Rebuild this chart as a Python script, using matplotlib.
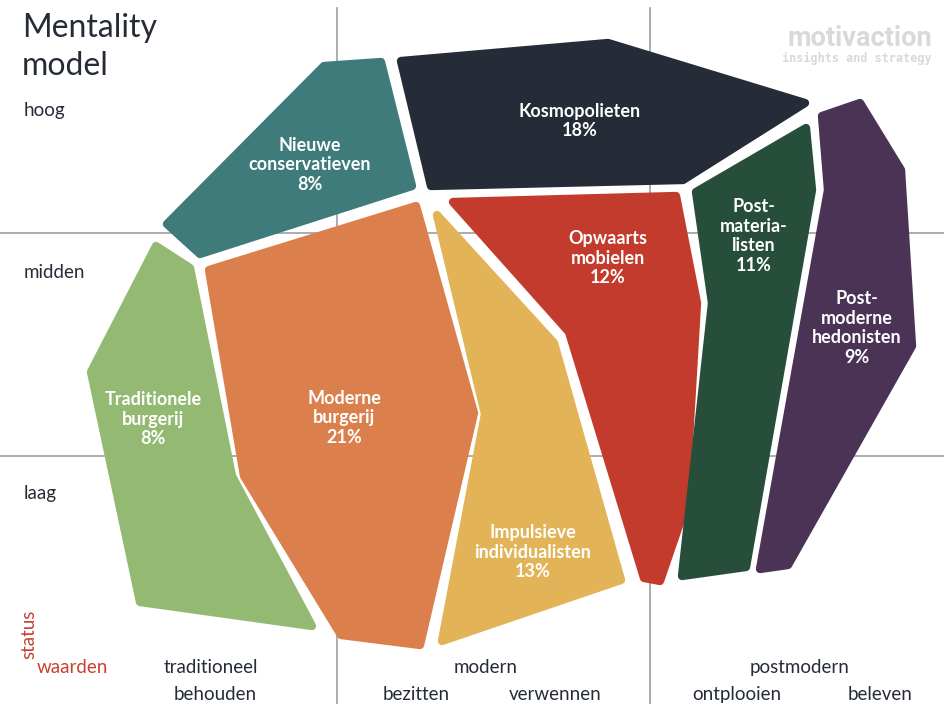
import matplotlib.pyplot as plt
from matplotlib.patches import Polygon

# segment names, shares and colours
segments = ['Nieuwe\nconservatieven', 'Kosmopolieten', 'Opwaarts\nmobielen',
            'Impulsieve\nindividualisten', 'Moderne\nburgerij', 'Traditionele\nburgerij',
            'Post-\nmateria-\nlisten', 'Post-\nmoderne\nhedonisten']
shares = [8, 18, 12, 13, 21, 8, 11, 9]
colors = ['#3E7B7A', '#262C37', '#C33B2C', '#E3B457', '#DB804C', '#94B973',
          '#274E3B', '#4A3355']

# shape outlines (pixel coords of the model picture)
shapes = [
    [(167, 224), (324, 66), (381, 62), (412, 186), (200, 254)],
    [(401, 61), (608, 43), (805, 103), (683, 180), (431, 186)],
    [(453, 202), (676, 196), (697, 303), (685, 508), (660, 581), (644, 578), (569, 332)],
    [(437, 215), (554, 343), (621, 580), (442, 641), (485, 414)],
    [(209, 270), (416, 206), (474, 413), (420, 645), (341, 635), (244, 476)],
    [(156, 246), (190, 268), (232, 476), (312, 626), (140, 602), (91, 372)],
    [(806, 128), (812, 190), (746, 567), (682, 576), (712, 303), (696, 192)],
    [(822, 116), (860, 103), (901, 170), (912, 346), (788, 565), (760, 569), (828, 190)],
]
label_pos = [(310, 165), (580, 121), (608, 258), (533, 552), (344, 418),
             (153, 419), (754, 236), (857, 328)]

# axes labels
status_levels = ['hoog', 'midden', 'laag']
status_y = [116, 278, 499]
values_top = ['traditioneel', 'modern', 'postmodern']
values_top_x = [211, 486, 800]
values_bottom = ['behouden', 'bezitten', 'verwennen', 'ontplooien', 'beleven']
values_bottom_x = [215, 416, 555, 737, 880]

dark = '#262C37'
red = '#C9402E'
grid = '#9C9EA3'

fig = plt.figure(figsize=(9.44, 7.04), dpi=100)
ax = fig.add_axes([0, 0, 1, 1])
ax.set_xlim(0, 944)
ax.set_ylim(704, 0)
ax.axis('off')

# grid
for x in [337, 650]:
    ax.plot([x, x], [8, 704], color=grid, lw=1.2, zorder=0)
for y in [233, 456]:
    ax.plot([0, 944], [y, y], color=grid, lw=1.2, zorder=0)

# shapes
for pts, c, name, s, (lx, ly) in zip(shapes, colors, segments, shares, label_pos):
    ax.add_patch(Polygon(pts, closed=True, facecolor=c, edgecolor=c, lw=6,
                         joinstyle='round', zorder=2))
    ax.text(lx, ly, f'{name}\n{s}%', color='white', fontsize=13, fontweight='bold',
            family='Lato', ha='center', va='center', linespacing=1.2, zorder=3)

# title
ax.text(22, 37, 'Mentality', fontsize=23, color=dark, family='Lato', va='baseline')
ax.text(22, 75, 'model', fontsize=23, color=dark, family='Lato', va='baseline')

for lab, y in zip(status_levels, status_y):
    ax.text(24, y, lab, fontsize=13.5, color=dark, family='Lato', va='baseline')

ax.text(29, 659, 'status', fontsize=13.5, color=red, family='Lato', rotation=90,
        ha='center', va='bottom')
ax.text(37, 673, 'waarden', fontsize=13.5, color=red, family='Lato', va='baseline')

for lab, x in zip(values_top, values_top_x):
    ax.text(x, 673, lab, fontsize=13.5, color=dark, family='Lato', ha='center',
            va='baseline')
for lab, x in zip(values_bottom, values_bottom_x):
    ax.text(x, 700, lab, fontsize=13.5, color=dark, family='Lato', ha='center',
            va='baseline')

# logo
ax.text(932, 39, 'motivaction', fontsize=19.5, color='#D9D9D9', fontweight='bold',
        family='Roboto', ha='right', va='center')
ax.text(932, 58, 'insights and strategy', fontsize=8.5, color='#D9D9D9',
        fontweight='bold', family='DejaVu Sans Mono', ha='right', va='center')

plt.savefig('out.png', dpi=100)
